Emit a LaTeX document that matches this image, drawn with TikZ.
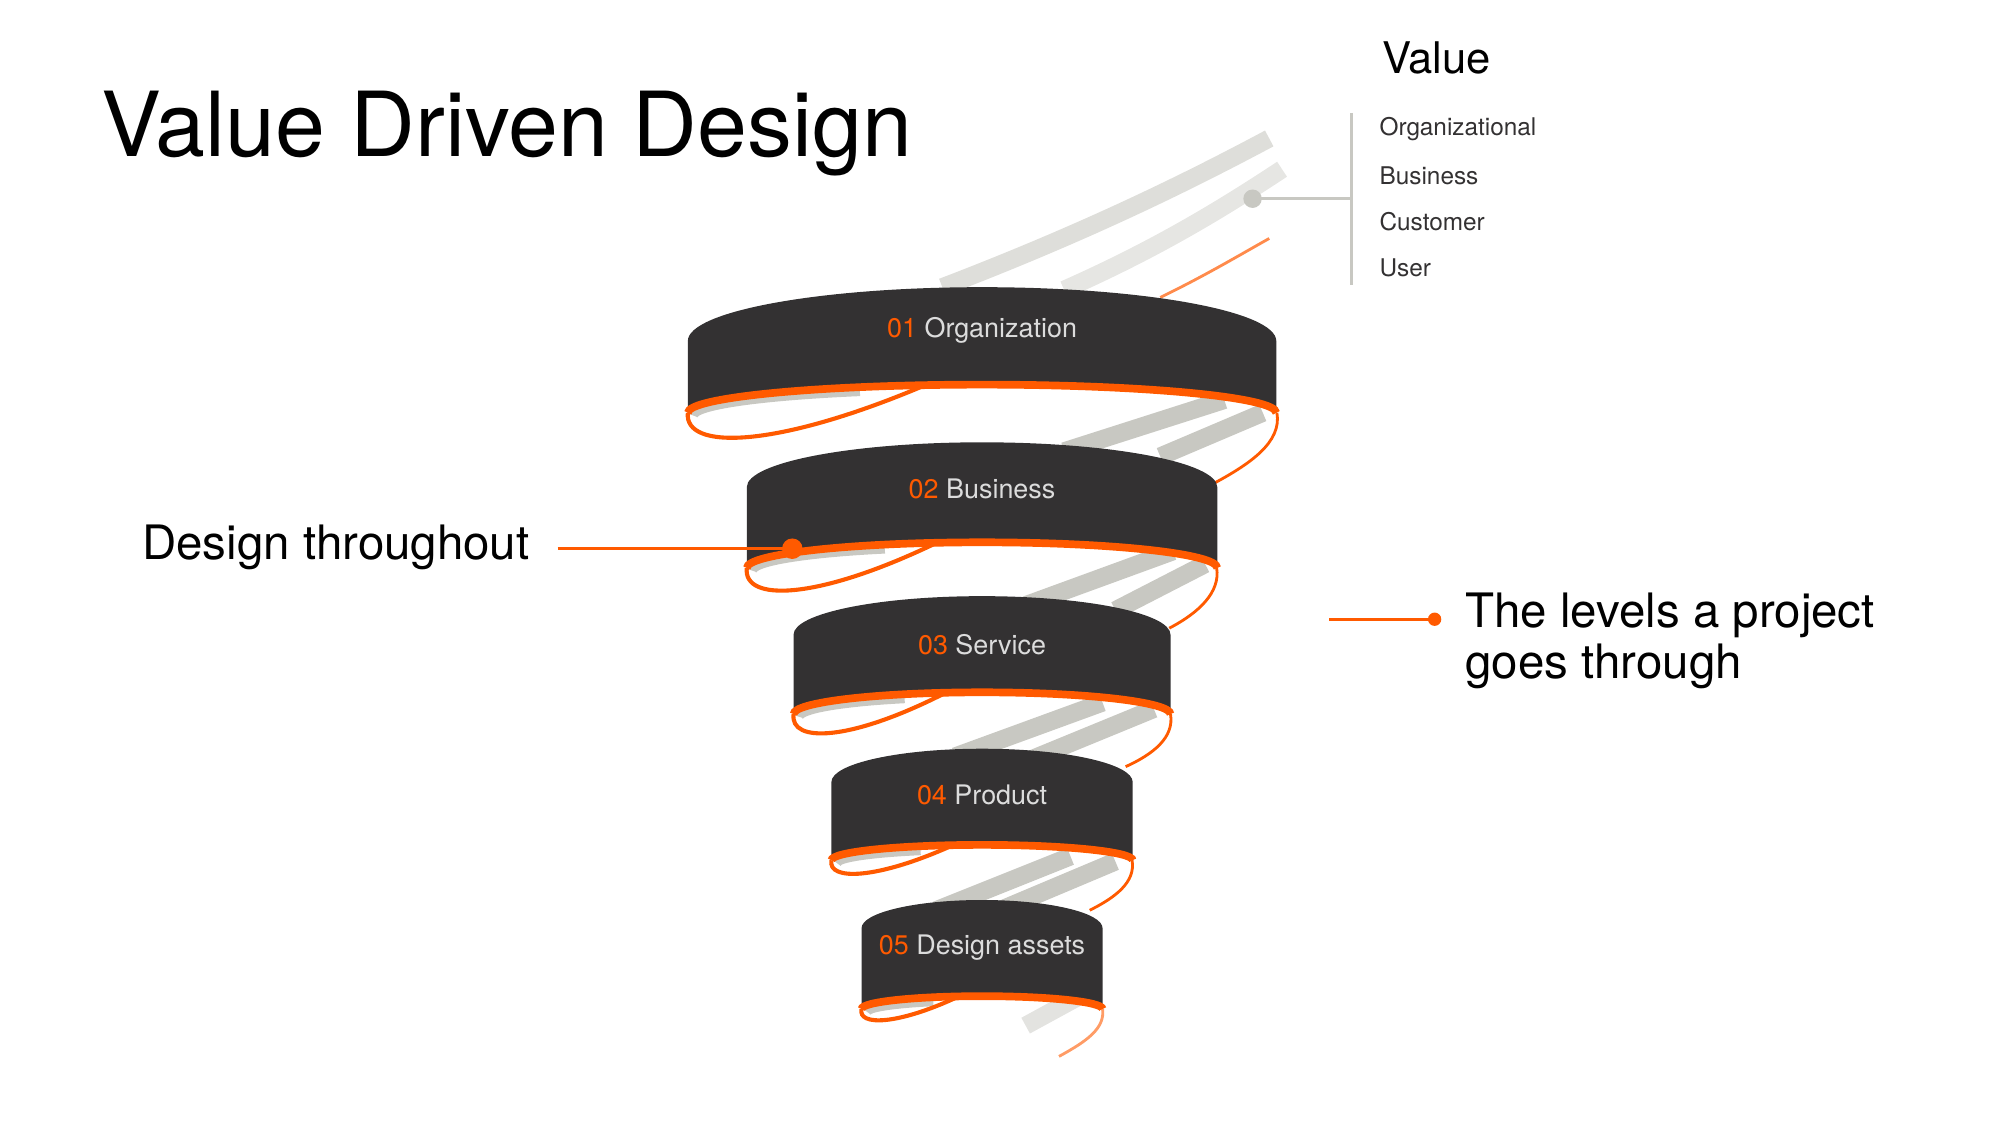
\documentclass[tikz,border=0pt]{standalone}
\usepackage{fontspec}
\setmainfont{TeX Gyre Heros}
\definecolor{dk}{HTML}{333132}
\definecolor{og}{HTML}{FF5A00}
\definecolor{gs}{HTML}{C8C8C2}
\definecolor{lt}{HTML}{DCDCDC}
\tikzset{stripe/.style={gs,line width=7pt},
 thinor/.style={og,line width=1.1pt},
 bandtxt/.style={text=lt,font=\fontsize{10.5}{12}\selectfont,anchor=center}}
% #1 rx, #2 top centre y, #3 ry, #4 bottom centre y, #5 rb, #6 name, #7 num, #8 text, #9 text y
\newcommand\myband[9]{%
 \fill[dk] ({766-#1},#2) arc[start angle=180,end angle=0,x radius=#1*0.5pt,y radius=#3*0.5pt]
   -- ({766+#1},#4) arc[start angle=0,end angle=180,x radius=#1*0.5pt,y radius=#5*0.5pt] -- cycle;
 \draw[gs,line width=4pt] ({766-#1+4},{#4+2}) arc[start angle=180,end angle=115,x radius=(#1-4)*0.5pt,y radius=(#5-1)*0.5pt];
 \draw[og,line width=3pt] ({766+#1},#4) arc[start angle=0,end angle=180,x radius=#1*0.5pt,y radius=#5*0.5pt];
 \draw[thinor,line width=1.6pt] ({766-#1},#4) .. controls ({766-#1-3},{#4+#5*1.35}) and ({766-#1*0.7},{#4+#5*1.25}) .. ({766-#1*0.2},{#4-#5*0.95});
 \node[bandtxt] (#6) at (766,#9) {\textcolor{og}{#7} #8};
}
\begin{document}
\begin{tikzpicture}[x=0.5pt,y=-0.5pt]
\useasboundingbox (0,0) rectangle (1560,877.5);
% title
\node[anchor=base west,font=\fontsize{35}{40}\selectfont] (title) at (72,122) {Value Driven Design};
% top stripes
\draw[stripe,gs!60] (735,224) .. controls (850,180) and (930,140) .. (990,108);
\draw[stripe,gs!45] (830,226) .. controls (900,195) and (950,165) .. (1000,132);
\draw[thinor,og!70] (905,232) .. controls (940,215) and (965,200) .. (990,186);
% gap stripes
\draw[stripe] (830,352) -- (955,312);
\draw[stripe] (905,356) -- (985,322);
\draw[stripe] (800,472) -- (915,430);
\draw[stripe] (870,476) -- (940,440);
\draw[stripe] (745,590) -- (860,548);
\draw[stripe] (805,592) -- (900,553);
\draw[stripe] (730,710) -- (835,668);
\draw[stripe] (775,712) -- (870,672);
\draw[stripe,gs!50] (800,800) -- (855,770);
% orange connectors
\draw[thinor] (996,322) .. controls (1000,345) and (975,362) .. (945,378);
\draw[thinor] (949,443) .. controls (952,462) and (935,478) .. (912,490);
\draw[thinor] (913,557) .. controls (916,575) and (900,588) .. (878,598);
\draw[thinor] (883,671) .. controls (886,688) and (870,700) .. (850,710);
\draw[thinor,og!60] (860,787) .. controls (862,802) and (848,812) .. (826,824);
% bands
\myband{94}{724}{22}{787}{10}{b5}{05}{Design assets}{739}
\myband{117.5}{610}{26}{671}{12}{b4}{04}{Product}{620}
\myband{147}{495}{30}{557}{17}{b3}{03}{Service}{503}
\myband{183.5}{380}{35}{443}{20}{b2}{02}{Business}{381}
\myband{229.5}{266}{42}{322}{22}{b1}{01}{Organization}{258}
% design throughout
\node[anchor=east,font=\fontsize{18.5}{22}\selectfont] (dt) at (420,427) {Design throughout};
\coordinate (dtdot) at (618,428);
\draw[og,line width=1.3pt] (dt.east |- dtdot) ++(15,0) -- (dtdot);
\fill[og] (dtdot) circle[radius=4pt];
% levels
\node[anchor=west,align=left,font=\fontsize{18.5}{20}\selectfont] (lv) at (1136,500) {The levels a project\\goes through};
\coordinate (lvdot) at (1119,483);
\coordinate (lvstart) at (1037,483);
\draw[og,line width=1.3pt] (lvstart) -- (lvdot);
\fill[og] (lvdot) circle[radius=2.6pt];
% value legend
\node[anchor=base west,font=\fontsize{17}{20}\selectfont] (val) at (1071,57) {Value};
\coordinate (vtop) at (1054,88);
\coordinate (vbot) at (1054,222);
\draw[gs,line width=1pt] (vtop) -- (vbot);
\coordinate (gdot) at (977,155);
\draw[gs,line width=1pt] (gdot) -- (1054,155);
\fill[gs] (gdot) circle[radius=3.6pt];
\foreach \t/\y/\n in {Organizational/101/v1,Business/137/v2,Customer/173/v3,User/209/v4}
  \node[anchor=west,text=dk,font=\fontsize{9.5}{11}\selectfont] (\n) at (1069,\y) {\t};
\end{tikzpicture}
\end{document}
